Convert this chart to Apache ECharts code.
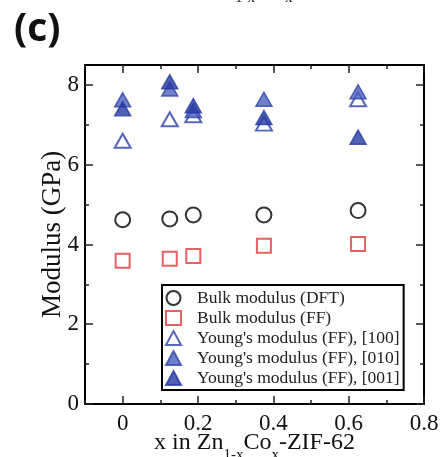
<!DOCTYPE html>
<html><head><meta charset="utf-8">
<script src="https://cdn.jsdelivr.net/npm/echarts@6/dist/echarts.min.js"></script>
<style>html,body{margin:0;padding:0;background:#fff;}#c{width:448px;height:457px;}</style>
</head><body><div id="c"></div>
<script>
const xValues = [0, 0.125, 0.1875, 0.375, 0.625];
const bulkDFT = [4.62, 4.64, 4.74, 4.74, 4.85];
const bulkFF = [3.59, 3.64, 3.71, 3.97, 4.01];
const young100 = [6.60, 7.14, 7.24, 7.03, 7.64];
const young010 = [7.63, 7.90, 7.36, 7.64, 7.83];
const young001 = [7.40, 8.08, 7.48, 7.18, 6.69];
const xMajorTicks = [0, 0.2, 0.4, 0.6, 0.8];
const xMinorTicks = [-0.1, 0.1, 0.3, 0.5, 0.7];
const yMajorTicks = [0, 2, 4, 6, 8];
const yMinorTicks = [1, 3, 5, 7];
const seriesNames = ['Bulk modulus (DFT)', 'Bulk modulus (FF)', "Young's modulus (FF), [100]", "Young's modulus (FF), [010]", "Young's modulus (FF), [001]"];

const serif = '"Liberation Serif", "Times New Roman", serif';
const chart = echarts.init(document.getElementById('c'));
const pair = (ys) => xValues.map((x, i) => [x, ys[i]]);

function xAx(pos, ticks, len, show, labels) {
  return {
    type: 'value', position: pos, min: -0.1, max: 0.8, interval: 0.1,
    axisLine: { show: show, onZero: false, lineStyle: { color: '#000', width: 2 } },
    axisTick: { show: true, inside: true, length: len, customValues: ticks, lineStyle: { color: '#222', width: 1.5 } },
    axisLabel: labels ? { show: true, customValues: xMajorTicks, color: '#111', fontFamily: serif, fontSize: 23, margin: 8,
      formatter: v => String(Math.round(v * 10) / 10) } : { show: false },
    splitLine: { show: false }
  };
}
function yAx(pos, ticks, len, show, labels) {
  return {
    type: 'value', position: pos, min: 0, max: 8.5, interval: 1,
    axisLine: { show: show, onZero: false, lineStyle: { color: '#000', width: 2 } },
    axisTick: { show: true, inside: true, length: len, customValues: ticks, lineStyle: { color: '#222', width: 1.5 } },
    axisLabel: labels ? { show: true, customValues: yMajorTicks, color: '#111', fontFamily: serif, fontSize: 23, margin: 6 } : { show: false },
    splitLine: { show: false }
  };
}

const xAxes = [xAx('bottom', xMajorTicks, 8, true, true), xAx('bottom', xMinorTicks, 4, false, false),
               xAx('top', xMajorTicks, 8, true, false), xAx('top', xMinorTicks, 4, false, false)];
xAxes[0].name = '{m|x in Zn}{s|1-x}{m|Co}{s|x}{m|-ZIF-62}';
xAxes[0].nameLocation = 'middle';
xAxes[0].nameMoveOverlap = false;
xAxes[0].nameGap = 30;
xAxes[0].nameTextStyle = { rich: {
  m: { fontFamily: serif, fontSize: 24, color: '#111', lineHeight: 28, padding: [0, 0, 10, 0] },
  s: { fontFamily: serif, fontSize: 15, color: '#111', lineHeight: 16, padding: [14, 0, 0, 0] }
} };
const yAxes = [yAx('left', yMajorTicks, 8, true, true), yAx('left', yMinorTicks, 4, false, false),
               yAx('right', yMajorTicks, 8, true, false), yAx('right', yMinorTicks, 4, false, false)];
yAxes[0].name = 'Modulus (GPa)';
yAxes[0].nameLocation = 'middle';
yAxes[0].nameMoveOverlap = false;
yAxes[0].nameGap = 19;
yAxes[0].nameTextStyle = { fontFamily: serif, fontSize: 27, color: '#111' };

const openStyle = (c) => ({ color: '#fff', borderColor: c, borderWidth: 2 });
const option = {
  animation: false,
  backgroundColor: '#fff',
  grid: { left: 85, right: 24, top: 65, bottom: 53, containLabel: false, outerBoundsMode: 'none' },
  xAxis: xAxes,
  yAxis: yAxes,
  legend: {
    orient: 'vertical', left: 162, top: 285,
    backgroundColor: '#fff', borderColor: '#000', borderWidth: 2, borderRadius: 0,
    padding: [4, 4, 3, 3], itemWidth: 15, itemHeight: 14, itemGap: 2,
    textStyle: { fontFamily: serif, fontSize: 17.5, color: '#222', lineHeight: 17, padding: [0, 0, 0, 11] },
    data: seriesNames
  },
  graphic: [
    { type: 'text', left: 14, top: 10, style: { text: '(c)', font: 'bold 39px "Open Sans", "Noto Sans", sans-serif', fill: '#111' } },
    { type: 'text', left: 235, top: -9, style: { text: '1-x', font: '15px ' + serif, fill: '#222' } },
    { type: 'text', left: 285, top: -9, style: { text: 'x', font: '15px ' + serif, fill: '#222' } }
  ],
  series: [
    { name: seriesNames[0], type: 'scatter', symbol: 'circle', symbolSize: 15, data: pair(bulkDFT), itemStyle: openStyle('#000') },
    { name: seriesNames[1], type: 'scatter', symbol: 'rect', symbolSize: 14, data: pair(bulkFF), itemStyle: openStyle('#e0383a') },
    { name: seriesNames[2], type: 'scatter', symbol: 'triangle', symbolSize: [16, 14], data: pair(young100), itemStyle: openStyle('#2d41a8') },
    { name: seriesNames[3], type: 'scatter', symbol: 'triangle', symbolSize: [16, 14], data: pair(young010), itemStyle: { color: '#4d60bd', borderColor: '#2f43a8', borderWidth: 1.5 } },
    { name: seriesNames[4], type: 'scatter', symbol: 'triangle', symbolSize: [16, 14], data: pair(young001), itemStyle: { color: '#2539a3', borderColor: '#2539a3', borderWidth: 1.5 } }
  ]
};
chart.setOption(option);
</script></body></html>
